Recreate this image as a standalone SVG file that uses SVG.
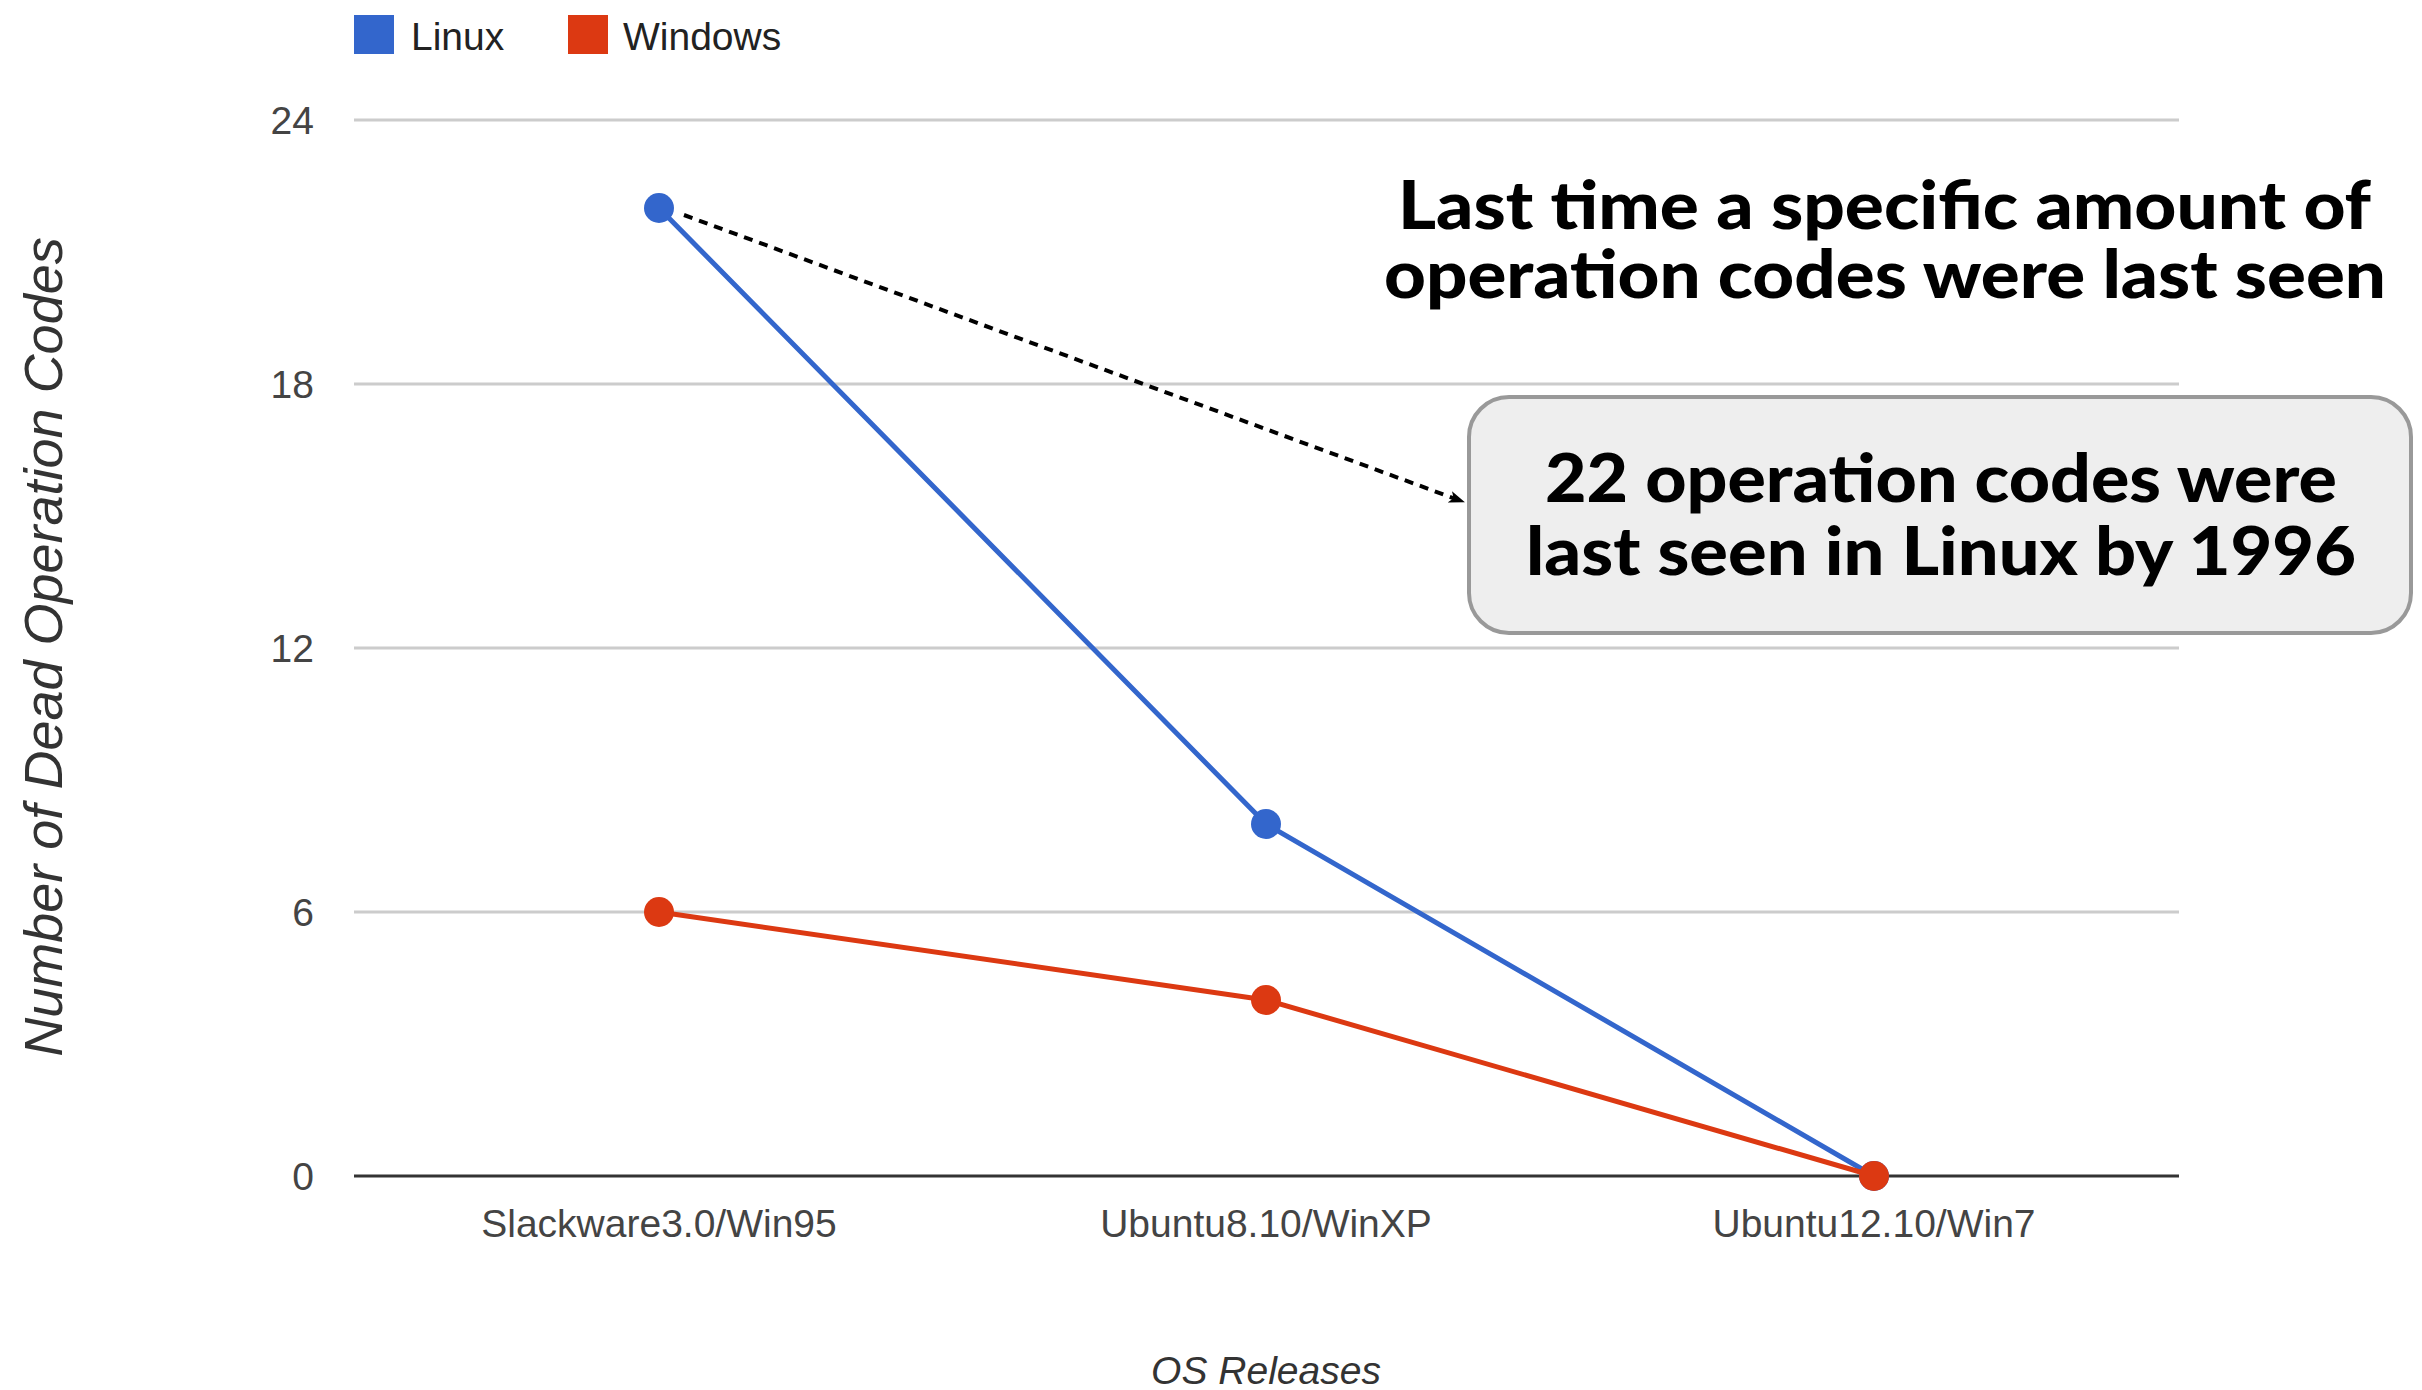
<svg xmlns="http://www.w3.org/2000/svg" width="2422" height="1390" viewBox="0 0 2422 1390">
<style>
.lab{font-family:"Liberation Sans",Arial,sans-serif;font-size:39px;fill:#444}
.ttl{font-family:"Liberation Sans",Arial,sans-serif;font-style:italic;fill:#333}
.grid{stroke:#cccccc;stroke-width:3}
.ann{font-family:Lato,"DejaVu Sans",sans-serif;font-weight:900;fill:#000;font-size:67px}
.lin{fill:none;stroke-width:5;stroke-linejoin:round}
</style>
<defs>
<marker id="ah" viewBox="0 0 16 12" refX="15" refY="6" markerWidth="16" markerHeight="12" markerUnits="userSpaceOnUse" orient="auto">
<path d="M0,0 L16,6 L0,12 L4,6 Z" fill="#000"/>
</marker>
</defs>
<rect width="2422" height="1390" fill="#ffffff"/>
<g id="legend">
<rect x="354" y="15" width="40" height="39" fill="#3366CC"/>
<text class="lab" x="411" y="50" style="fill:#222">Linux</text>
<rect x="568" y="15" width="40" height="39" fill="#DC3912"/>
<text class="lab" x="623" y="50" style="fill:#222">Windows</text>
</g>
<g id="grid">
<line class="grid" x1="354" y1="120" x2="2179" y2="120"/>
<line class="grid" x1="354" y1="384" x2="2179" y2="384"/>
<line class="grid" x1="354" y1="648" x2="2179" y2="648"/>
<line class="grid" x1="354" y1="912" x2="2179" y2="912"/>
<line x1="354" y1="1176" x2="2179" y2="1176" stroke="#333" stroke-width="3"/>
</g>
<g id="yaxis" text-anchor="end">
<text class="lab" x="314" y="134">24</text>
<text class="lab" x="314" y="398">18</text>
<text class="lab" x="314" y="662">12</text>
<text class="lab" x="314" y="926">6</text>
<text class="lab" x="314" y="1190">0</text>
</g>
<g id="xaxis" text-anchor="middle">
<text class="lab" x="659" y="1237">Slackware3.0/Win95</text>
<text class="lab" x="1266" y="1237">Ubuntu8.10/WinXP</text>
<text class="lab" x="1874" y="1237">Ubuntu12.10/Win7</text>
</g>
<text class="ttl" x="1266" y="1384" font-size="39" text-anchor="middle">OS Releases</text>
<text class="ttl" transform="translate(62,647) rotate(-90)" font-size="54" text-anchor="middle">Number of Dead Operation Codes</text>
<g id="series-linux">
<polyline class="lin" stroke="#3366CC" points="659,208 1266,824 1874,1176"/>
<circle cx="659" cy="208" r="15" fill="#3366CC"/>
<circle cx="1266" cy="824" r="15" fill="#3366CC"/>
<circle cx="1874" cy="1176" r="15" fill="#3366CC"/>
</g>
<g id="series-windows">
<polyline class="lin" stroke="#DC3912" points="659,912 1266,1000 1874,1176"/>
<circle cx="659" cy="912" r="15" fill="#DC3912"/>
<circle cx="1266" cy="1000" r="15" fill="#DC3912"/>
<circle cx="1874" cy="1176" r="15" fill="#DC3912"/>
</g>
<g id="title-note">
<text class="ann" x="1398" y="229" textLength="973" lengthAdjust="spacingAndGlyphs">Last time a specific amount of</text>
<text class="ann" x="1384" y="298" textLength="1002" lengthAdjust="spacingAndGlyphs">operation codes were last seen</text>
</g>
<g id="connectors">
<line x1="684" y1="215" x2="1464" y2="502" stroke="#000" stroke-width="4" stroke-dasharray="9,7" marker-end="url(#ah)"/>
</g>
<g id="callout">
<rect x="1469" y="397" width="942" height="236" rx="40" ry="40" fill="#eeeeee" stroke="#999999" stroke-width="4"/>
<text class="ann" x="1545" y="502" textLength="792" lengthAdjust="spacingAndGlyphs">22 operation codes were</text>
<text class="ann" x="1526" y="575" textLength="830" lengthAdjust="spacingAndGlyphs">last seen in Linux by 1996</text>
</g>
</svg>
